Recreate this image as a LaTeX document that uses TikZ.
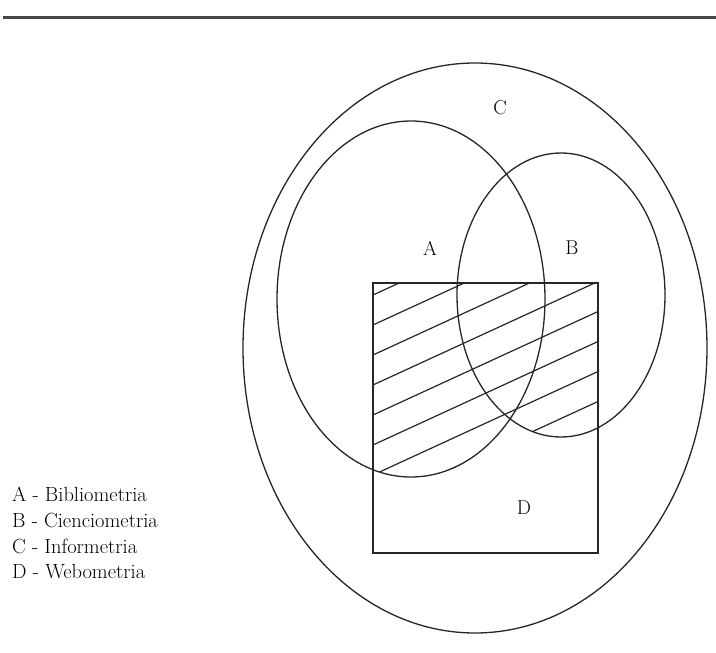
\documentclass[tikz,border=0pt]{standalone}
\begin{document}
\begin{tikzpicture}[x=1pt,y=-1pt,
  outl/.style={line width=1.3pt,draw=black!85},
  hatch/.style={line width=1.2pt,draw=black!85},
  lbl/.style={font=\fontsize{20}{22}\selectfont,inner sep=0pt},
  leg/.style={font=\fontsize{20.5}{22}\selectfont,inner sep=0pt,anchor=west}]
\useasboundingbox (0,0) rectangle (716,653);
% top rule
\coordinate (ruleL) at (3,17);
\coordinate (ruleR) at (716,17);
\draw[line width=3pt,black!72] (ruleL) -- (ruleR);
% hatching: square intersect (A union B)
\begin{scope}
  \clip (373,283) rectangle (598,553);
  \clip (411,299) ellipse [x radius=134pt, y radius=178pt]
        (561,295) ellipse [x radius=104pt, y radius=142pt];
  \foreach \k in {-1,...,10}{
    \draw[hatch] (360,{295+30*\k+5.98}) -- (610,{295+30*\k-109.02});
  }
\end{scope}
% C outer
\draw[outl] (475,348) ellipse [x radius=232pt, y radius=285pt];
% A
\draw[outl] (411,299) ellipse [x radius=134pt, y radius=178pt];
% B
\draw[outl] (561,295) ellipse [x radius=104pt, y radius=142pt];
% D square
\draw[outl] (373,283) rectangle (598,553);
% labels
\node[lbl] (labC) at (500,108) {C};
\node[lbl] (labA) at (430,248) {A};
\node[lbl] (labB) at (572,248) {B};
\node[lbl] (labD) at (524,508) {D};
% legend
\node[leg] (legA) at (12,494) {A - Bibliometria};
\node[leg] (legB) at (12,520) {B - Cienciometria};
\node[leg] (legC) at (12,546) {C - Informetria};
\node[leg] (legD) at (12,572) {D - Webometria};
\end{tikzpicture}
\end{document}
